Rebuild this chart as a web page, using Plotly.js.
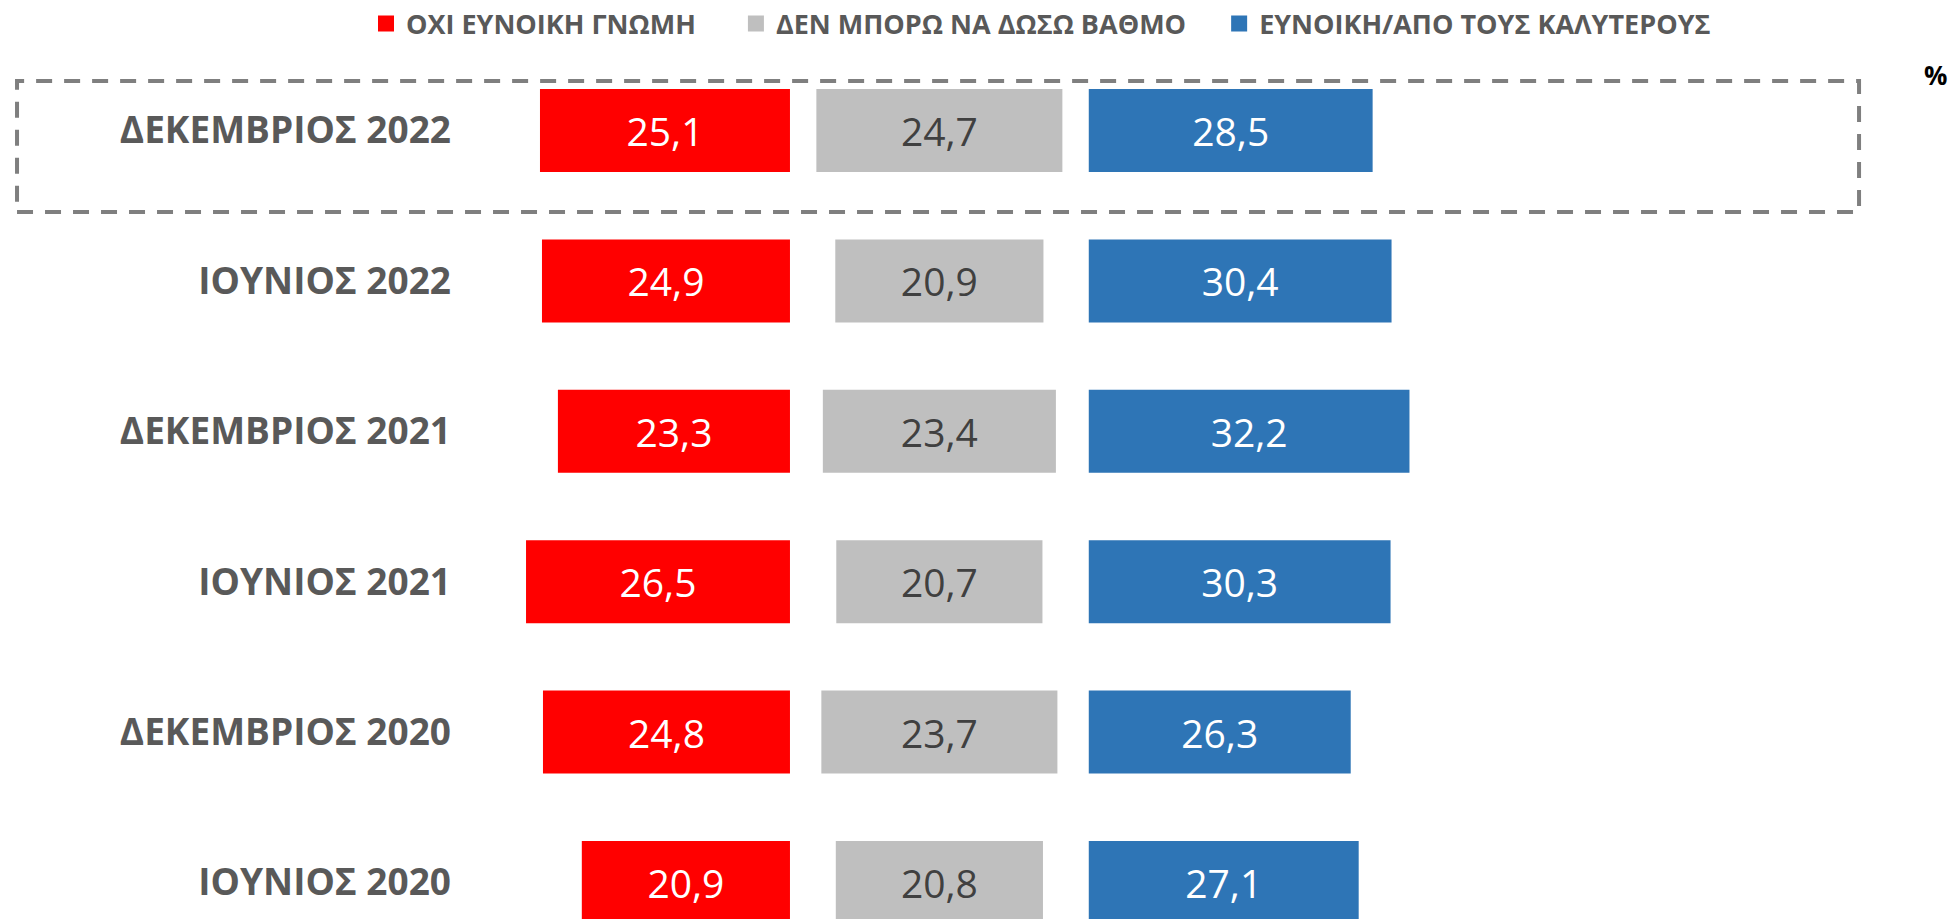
<!DOCTYPE html>
<html>
<head>
<meta charset="utf-8">
<script src="https://cdn.plot.ly/plotly-3.0.1.min.js"></script>
<style>html,body{margin:0;padding:0;background:#fff;}#chart{width:1952px;height:919px;}</style>
</head>
<body>
<div id="chart"></div>
<script>
// Data
const periods = ["ΔΕΚΕΜΒΡΙΟΣ 2022", "ΙΟΥΝΙΟΣ 2022", "ΔΕΚΕΜΒΡΙΟΣ 2021", "ΙΟΥΝΙΟΣ 2021", "ΔΕΚΕΜΒΡΙΟΣ 2020", "ΙΟΥΝΙΟΣ 2020"];
const unfavourable = [25.1, 24.9, 23.3, 26.5, 24.8, 20.9];
const cannotRate = [24.7, 20.9, 23.4, 20.7, 23.7, 20.8];
const favourable = [28.5, 30.4, 32.2, 30.3, 26.3, 27.1];
const seriesNames = ["ΟΧΙ ΕΥΝΟΙΚΗ ΓΝΩΜΗ", "ΔΕΝ ΜΠΟΡΩ ΝΑ ΔΩΣΩ ΒΑΘΜΟ", "ΕΥΝΟΙΚΗ/ΑΠΟ ΤΟΥΣ ΚΑΛΥΤΕΡΟΥΣ"];
const seriesColors = ['#FF0000', '#BFBFBF', '#2E75B6'];
const valueColors = ['#FFFFFF', '#404040', '#FFFFFF'];

// Panel anchors on the shared value axis
const RED_END = 0, GRAY_CENTER = 15, BLUE_START = 30;

const FONT = "Open Sans, Noto Sans, DejaVu Sans, sans-serif";
const barWidth = 0.552;
const legendPad = ['\u00A0\u00A0\u00A0\u00A0\u00A0', '\u00A0\u00A0\u00A0\u00A0', ''];

const common = {
  type: 'bar', orientation: 'h', y: periods, width: barWidth,
  textposition: 'inside', insidetextanchor: 'middle', textangle: 0,
  texttemplate: '%{x:.1f}', hoverinfo: 'skip', constraintext: 'none',
  cliponaxis: false, showlegend: false
};

const bases = [
  unfavourable.map(v => RED_END - v),
  cannotRate.map(v => GRAY_CENTER - v / 2),
  favourable.map(v => BLUE_START)
];
const values = [unfavourable, cannotRate, favourable];

const traces = [];
for (let i = 0; i < 3; i++) {
  traces.push(Object.assign({}, common, {
    name: seriesNames[i], x: values[i], base: bases[i],
    marker: {color: seriesColors[i]},
    textfont: {family: FONT, size: 39, color: valueColors[i]}
  }));
}
// legend entries (square keys)
for (let i = 0; i < 3; i++) {
  traces.push({
    type: 'scatter', mode: 'markers', x: [null], y: [null],
    name: seriesNames[i] + legendPad[i],
    marker: {symbol: 'square', size: 16, color: seriesColors[i], line: {width: 0}},
    showlegend: true, hoverinfo: 'skip'
  });
}

const layout = {
  width: 1952, height: 919,
  margin: {l: 460, r: 0, t: 0, b: 0, pad: 0, autoexpand: false},
  paper_bgcolor: '#FFFFFF', plot_bgcolor: '#FFFFFF',
  separators: ',.',
  barmode: 'overlay',
  showlegend: true,
  legend: {
    orientation: 'h', xref: 'container', yref: 'container',
    x: 366 / 1952, xanchor: 'left', y: 1 - 24 / 919, yanchor: 'middle',
    font: {family: FONT, size: 27, color: '#595959', weight: 'bold'},
    traceorder: 'normal', itemsizing: 'trace', itemclick: false, itemdoubleclick: false
  },
  xaxis: {
    range: [-33.13, 116.67], showgrid: false, zeroline: false,
    showline: false, showticklabels: false, ticks: '', fixedrange: true
  },
  yaxis: {
    type: 'category', categoryorder: 'array', categoryarray: periods,
    range: [5.2427, -0.8677], showgrid: false, zeroline: false, showline: false,
    ticks: '', ticklabelstandoff: 8,
    tickfont: {family: FONT, size: 37, color: '#595959', weight: 'bold'},
    fixedrange: true
  },
  shapes: [{
    type: 'rect', xref: 'paper', yref: 'paper',
    x0: -0.2969, x1: 0.9377, y0: 0.7693, y1: 0.9119,
    line: {color: '#7F7F7F', width: 4, dash: '16px,12px'},
    fillcolor: 'rgba(0,0,0,0)', layer: 'above'
  }],
  annotations: [{
    text: '%', xref: 'paper', yref: 'paper',
    x: (1935 - 460) / 1492, y: 1 - 75 / 919, xanchor: 'center', yanchor: 'middle',
    showarrow: false, font: {family: FONT, size: 26, color: '#000000', weight: 'bold'}
  }]
};

Plotly.newPlot('chart', traces, layout, {displayModeBar: false, staticPlot: true});
</script>
</body>
</html>
